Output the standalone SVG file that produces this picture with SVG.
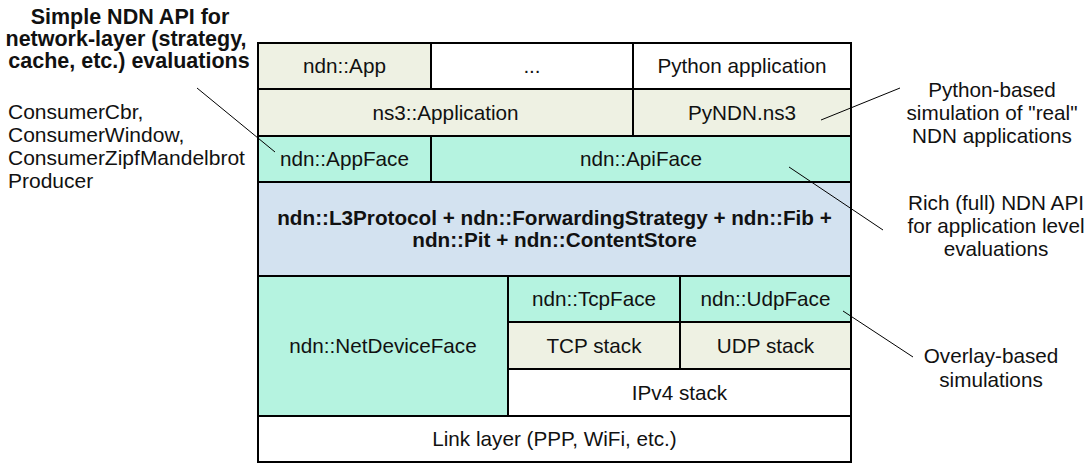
<svg xmlns="http://www.w3.org/2000/svg" width="1086" height="463" viewBox="0 0 1086 463">
  <style>
    .box { stroke: #000; stroke-width: 2; }
    .beige { fill: #eef1e3; }
    .teal { fill: #b5f3e0; }
    .blue { fill: #d3e2f0; }
    .white { fill: #ffffff; }
    text { font-family: "Liberation Sans", Arial, Helvetica, sans-serif; fill: #111; }
    .t { font-size: 20.7px; text-anchor: middle; }
    .tb { font-size: 20.7px; font-weight: bold; text-anchor: middle; }
    .ann { font-size: 20.7px; text-anchor: middle; }
    .annl { font-size: 21px; }
    .title { font-size: 21.5px; font-weight: bold; text-anchor: middle; }
    .conn { stroke: #000; stroke-width: 1; fill: none; }
  </style>
  <rect width="1086" height="463" fill="#ffffff"/>

  <g id="node-ndn-app"><rect class="box beige" x="258" y="43" width="173" height="46"/><text class="t" x="344.5" y="73">ndn::App</text></g>
  <g id="node-dots"><rect class="box white" x="431" y="43" width="202" height="46"/><text class="t" x="532" y="73">...</text></g>
  <g id="node-python-app"><rect class="box white" x="633" y="43" width="218" height="46"/><text class="t" x="742" y="73">Python application</text></g>

  <g id="node-ns3-application"><rect class="box beige" x="258" y="89" width="375" height="47"/><text class="t" x="445.5" y="120">ns3::Application</text></g>
  <g id="node-pyndn"><rect class="box beige" x="633" y="89" width="218" height="47"/><text class="t" x="742" y="120">PyNDN.ns3</text></g>

  <g id="node-appface"><rect class="box teal" x="258" y="136" width="173" height="46"/><text class="t" x="344.5" y="166">ndn::AppFace</text></g>
  <g id="node-apiface"><rect class="box teal" x="431" y="136" width="420" height="46"/><text class="t" x="641" y="166">ndn::ApiFace</text></g>

  <g id="node-l3"><rect class="box blue" x="258" y="182" width="593" height="94"/>
    <text class="tb" x="554.5" y="225">ndn::L3Protocol + ndn::ForwardingStrategy + ndn::Fib +</text>
    <text class="tb" x="554.5" y="247">ndn::Pit + ndn::ContentStore</text></g>

  <g id="node-netdeviceface"><rect class="box teal" x="258" y="276" width="250" height="140"/><text class="t" x="383" y="353">ndn::NetDeviceFace</text></g>
  <g id="node-tcpface"><rect class="box teal" x="508" y="276" width="172" height="46"/><text class="t" x="594" y="306">ndn::TcpFace</text></g>
  <g id="node-udpface"><rect class="box teal" x="680" y="276" width="171" height="46"/><text class="t" x="765.5" y="306">ndn::UdpFace</text></g>
  <g id="node-tcpstack"><rect class="box beige" x="508" y="322" width="172" height="47"/><text class="t" x="594" y="353">TCP stack</text></g>
  <g id="node-udpstack"><rect class="box beige" x="680" y="322" width="171" height="47"/><text class="t" x="765.5" y="353">UDP stack</text></g>
  <g id="node-ipv4"><rect class="box white" x="508" y="369" width="343" height="47"/><text class="t" x="679.5" y="400">IPv4 stack</text></g>
  <g id="node-link"><rect class="box white" x="258" y="416" width="593" height="46"/><text class="t" x="554.5" y="446">Link layer (PPP, WiFi, etc.)</text></g>

  <g id="note-simple">
    <text class="title" x="130" y="24">Simple NDN API for</text>
    <text class="title" x="126" y="46">network-layer (strategy,</text>
    <text class="title" x="129" y="68">cache, etc.) evaluations</text>
  </g>
  <g id="note-consumers">
    <text class="annl" x="8" y="119">ConsumerCbr,</text>
    <text class="annl" x="8" y="142">ConsumerWindow,</text>
    <text class="annl" x="8" y="165">ConsumerZipfMandelbrot</text>
    <text class="annl" x="8" y="188">Producer</text>
  </g>
  <g id="note-python">
    <text class="ann" x="992" y="97">Python-based</text>
    <text class="ann" x="992" y="120">simulation of "real"</text>
    <text class="ann" x="992" y="143">NDN applications</text>
  </g>
  <g id="note-rich">
    <text class="ann" x="996" y="210">Rich (full) NDN API</text>
    <text class="ann" x="996" y="233">for application level</text>
    <text class="ann" x="996" y="256">evaluations</text>
  </g>
  <g id="note-overlay">
    <text class="ann" x="991" y="363">Overlay-based</text>
    <text class="ann" x="991" y="387">simulations</text>
  </g>

  <g id="connectors">
    <line class="conn" x1="197" y1="88" x2="275" y2="152"/>
    <line class="conn" x1="821" y1="120" x2="900" y2="88"/>
    <line class="conn" x1="789" y1="167" x2="883" y2="230"/>
    <line class="conn" x1="843" y1="311" x2="913" y2="357"/>
  </g>
</svg>
